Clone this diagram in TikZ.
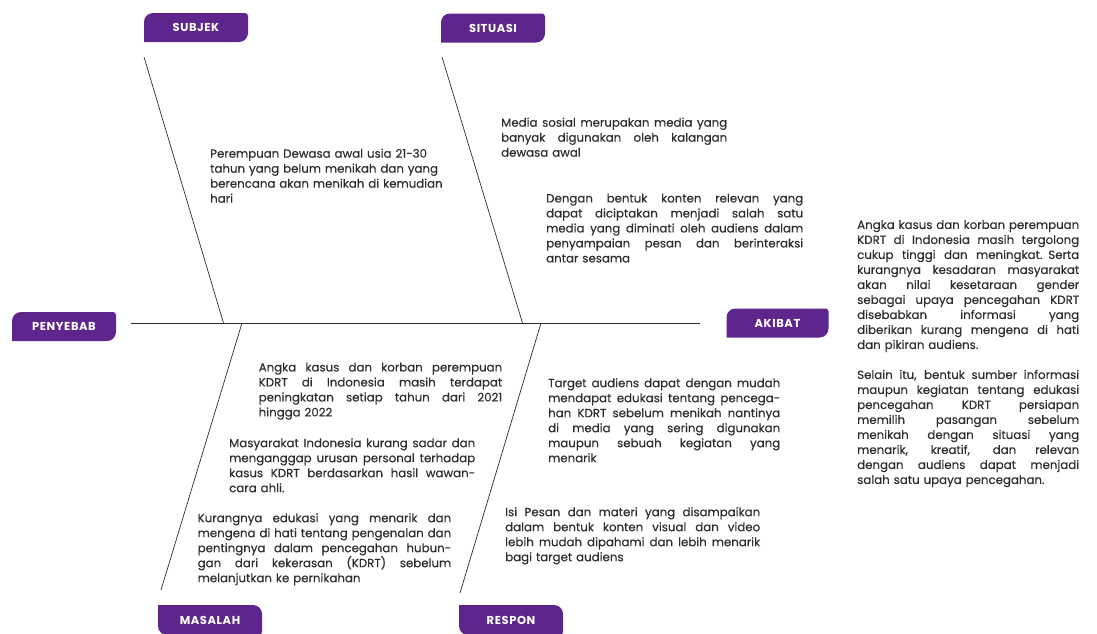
\documentclass[tikz,border=0pt]{standalone}
\usepackage{fontspec}
\setmainfont{Poppins}
\usepackage{xcolor}
\usepackage{tikz}
\usetikzlibrary{positioning}

\definecolor{ungu}{RGB}{94,38,140}
\definecolor{teks}{RGB}{45,45,45}
\newlength{\lebar}
\newcommand{\jl}[1]{\leavevmode\hbox to \lebar{\spaceskip=\fontdimen2\font plus 1fil\relax #1}}

\tikzset{
  tabatas/.style={fill=white, minimum width=104pt, minimum height=29pt, inner sep=0pt,
    text=white, font=\bfseries\fontsize{11.5}{13}\selectfont\addfontfeature{LetterSpace=5},
    path picture={\fill[ungu] (path picture bounding box.south west)
      -- ([yshift=-9pt]path picture bounding box.north west) arc[start angle=180, end angle=90, radius=9pt]
      -- ([xshift=-3pt]path picture bounding box.north east) arc[start angle=90, end angle=0, radius=3pt]
      -- ([yshift=9pt]path picture bounding box.south east) arc[start angle=0, end angle=-90, radius=9pt]
      -- cycle;}},
  tabbawah/.style={fill=white, minimum width=104pt, minimum height=30pt, inner sep=0pt,
    text=white, font=\bfseries\fontsize{11.5}{13}\selectfont\addfontfeature{LetterSpace=5},
    path picture={\fill[ungu] (path picture bounding box.north west)
      -- ([xshift=-9pt]path picture bounding box.north east) arc[start angle=90, end angle=0, radius=9pt]
      -- ([yshift=3pt]path picture bounding box.south east) arc[start angle=0, end angle=-90, radius=3pt]
      -- ([xshift=9pt]path picture bounding box.south west) arc[start angle=270, end angle=180, radius=9pt]
      -- cycle;}},
  txt/.style={inner sep=0pt, anchor=north west, align=left, text=teks,
    font=\fontsize{11.8}{15}\selectfont\addfontfeature{FakeBold=0.3}, text width=#1pt,
    execute at begin node={\global\lebar=#1pt\relax}},
  tulang/.style={draw=teks, line width=0.7pt}
}

\begin{document}
\begin{tikzpicture}[x=1pt, y=-1pt]
\useasboundingbox (0,0) rectangle (1097,633);

\node (subjek) [tabatas] at (196,27.5) {SUBJEK};
\node (situasi) [tabatas] at (493,28) {SITUASI};
\node (penyebab) [tabatas] at (64,326.5) {PENYEBAB};
\node (akibat) [tabatas, minimum width=102pt] at (777.5,323) {AKIBAT};
\node (masalah) [tabbawah] at (210,620) {MASALAH};
\node (respon) [tabbawah] at (511,620) {RESPON};

\coordinate (ekor) at (131,323);
\coordinate (kepala) at (700,323);
\coordinate (subjekatas) at (144,57);
\coordinate (subjekbawah) at (223.5,323);
\coordinate (situasiatas) at (442,57);
\coordinate (situasibawah) at (522.5,323);
\coordinate (masalahatas) at (242,323);
\coordinate (masalahbawah) at (161,590);
\coordinate (responatas) at (541,323);
\coordinate (responbawah) at (460,593);

\draw[tulang] (ekor) -- (kepala);
\draw[tulang] (subjekatas) -- (subjekbawah);
\draw[tulang] (situasiatas) -- (situasibawah);
\draw[tulang] (masalahatas) -- (masalahbawah);
\draw[tulang] (responatas) -- (responbawah);

\node (subjekteks) [txt=240] at (210,148.5) {
    Perempuan Dewasa awal usia 21-30\\
    tahun yang belum menikah dan yang\\
    berencana akan menikah di kemudian\\
    hari};

\node (situasiteks1) [txt=226] at (501,117.5) {
    \jl{Media sosial merupakan media yang}\\
    \jl{banyak digunakan oleh kalangan}\\
    dewasa awal};

\node (situasiteks2) [txt=257] at (546,193.5) {
    \jl{Dengan bentuk konten relevan yang}\\
    \jl{dapat diciptakan menjadi salah satu}\\
    \jl{media yang diminati oleh audiens dalam}\\
    \jl{penyampaian pesan dan berinteraksi}\\
    antar sesama};

\node (akibatteks) [txt=222] at (857,220) {
    \jl{Angka kasus dan korban perempuan}\\
    \jl{KDRT di Indonesia masih tergolong}\\
    \jl{cukup tinggi dan meningkat. Serta}\\
    \jl{kurangnya kesadaran masyarakat}\\
    \jl{akan nilai kesetaraan gender}\\
    \jl{sebagai upaya pencegahan KDRT}\\
    \jl{disebabkan informasi yang}\\
    \jl{diberikan kurang mengena di hati}\\
    dan pikiran audiens.\\[15pt]
    \jl{Selain itu, bentuk sumber informasi}\\
    \jl{maupun kegiatan tentang edukasi}\\
    \jl{pencegahan KDRT persiapan}\\
    \jl{memilih pasangan sebelum}\\
    \jl{menikah dengan situasi yang}\\
    \jl{menarik, kreatif, dan relevan}\\
    \jl{dengan audiens dapat menjadi}\\
    salah satu upaya pencegahan.};

\node (masalahteks1) [txt=243.5] at (258.5,362.5) {
    \jl{Angka kasus dan korban perempuan}\\
    \jl{KDRT di Indonesia masih terdapat}\\
    \jl{peningkatan setiap tahun dari 2021}\\
    hingga 2022};

\node (masalahteks2) [txt=246] at (229,438) {
    \jl{Masyarakat Indonesia kurang sadar dan}\\
    \jl{menganggap urusan personal terhadap}\\
    \jl{kasus KDRT berdasarkan hasil wawan-}\\
    cara ahli.};

\node (masalahteks3) [txt=253.5] at (197.5,513) {
    \jl{Kurangnya edukasi yang menarik dan}\\
    \jl{mengena di hati tentang pengenalan dan}\\
    \jl{pentingnya dalam pencegahan hubun-}\\
    \jl{gan dari kekerasan (KDRT) sebelum}\\
    melanjutkan ke pernikahan};

\node (responteks1) [txt=232] at (548,378) {
    \jl{Target audiens dapat dengan mudah}\\
    \jl{mendapat edukasi tentang pencega-}\\
    \jl{han KDRT sebelum menikah nantinya}\\
    \jl{di media yang sering digunakan}\\
    \jl{maupun sebuah kegiatan yang}\\
    menarik};

\node (responteks2) [txt=255] at (505,507) {
    \jl{Isi Pesan dan materi yang disampaikan}\\
    \jl{dalam bentuk konten visual dan video}\\
    \jl{lebih mudah dipahami dan lebih menarik}\\
    bagi target audiens};
\end{tikzpicture}
\end{document}
